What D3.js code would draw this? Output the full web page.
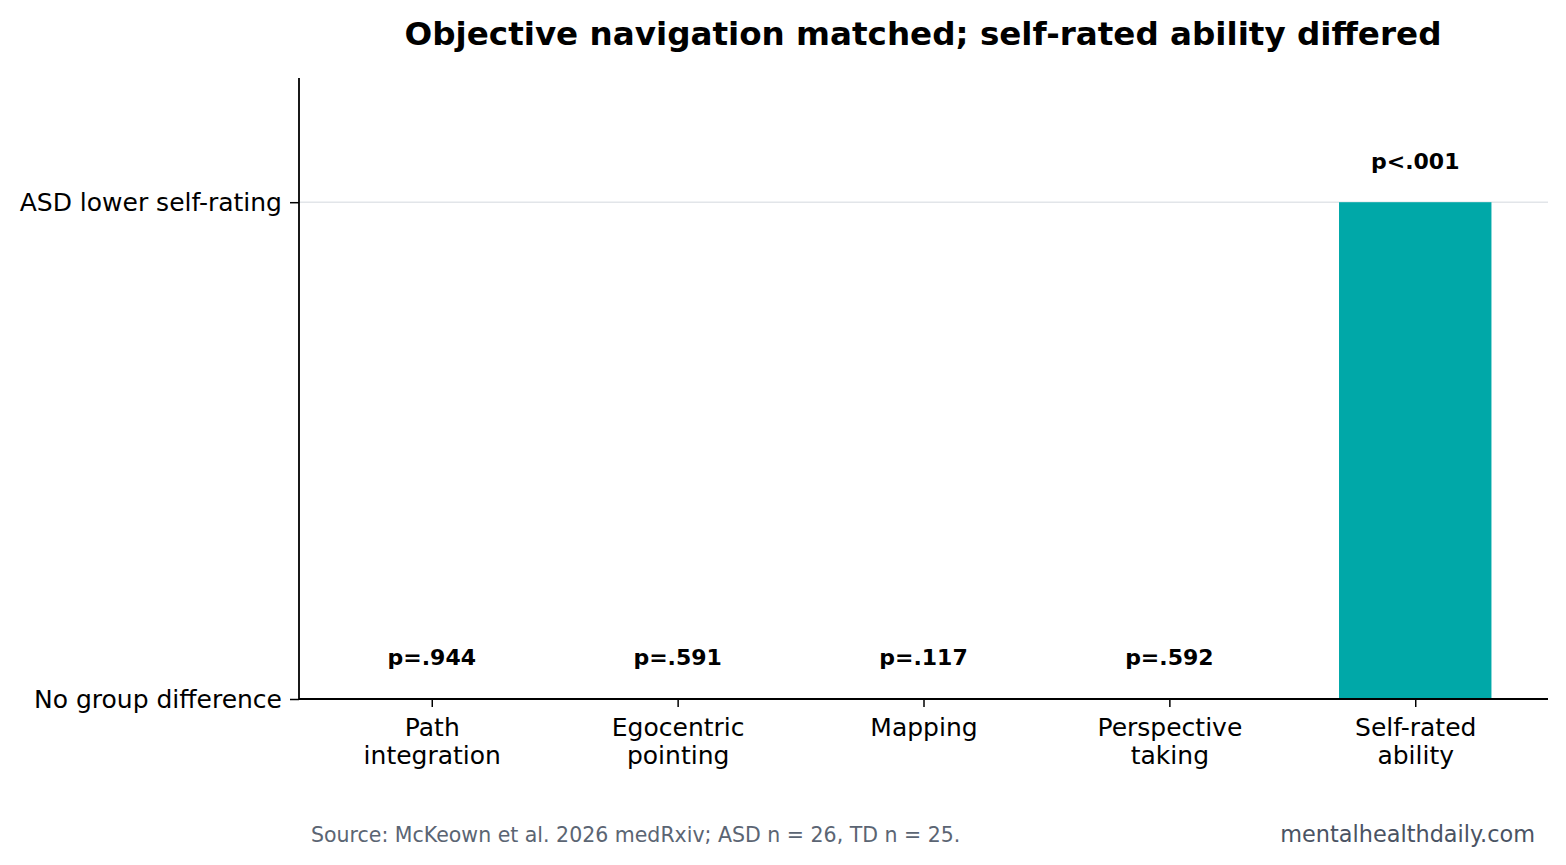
<!DOCTYPE html>
<html><head><meta charset="utf-8">
<script src="https://cdn.jsdelivr.net/npm/d3@7"></script>
<style>body{margin:0;background:#fff}svg{display:block}text{font-family:"DejaVu Sans",sans-serif}</style>
</head><body>
<svg id="c" width="1566" height="865"></svg>
<script>
const categories = [["Path","integration"],["Egocentric","pointing"],["Mapping"],["Perspective","taking"],["Self-rated","ability"]];
const values = [0, 0, 0, 0, 1];
const pLabels = ["p=.944","p=.591","p=.117","p=.592","p<.001"];
const yTickValues = [0, 1];
const yTickLabels = ["No group difference","ASD lower self-rating"];

const svg = d3.select("#c");
const L = 299, R = 1548, T = 78, B = 699;
const x = d3.scaleLinear().domain([-0.54, 4.54]).range([L, R]);
const y = d3.scaleLinear().domain([0, 1.25]).range([B, T]);
const bw = 0.62;

// gridline
svg.append("g").selectAll("line").data(yTickValues.filter(v=>v>0)).join("line")
  .attr("x1", L).attr("x2", R).attr("y1", d=>y(d)).attr("y2", d=>y(d))
  .attr("stroke", "#e2e5e9").attr("stroke-width", 1.5);

// bars
svg.append("g").selectAll("rect").data(values).join("rect")
  .attr("x", (d,i)=>x(i-bw/2)).attr("width", x(bw)-x(0))
  .attr("y", d=>y(d)).attr("height", d=>y(0)-y(d))
  .attr("fill", "#00a8a8");

// p labels
svg.append("g").selectAll("text").data(values).join("text")
  .attr("x", (d,i)=>x(i)).attr("y", d=>y(d+0.083))
  .attr("text-anchor","middle").attr("dy","0.35em")
  .attr("font-size", 22).attr("font-weight","bold").text((d,i)=>pLabels[i]);

// axes
const yAxis = d3.axisLeft(y).tickValues(yTickValues).tickFormat((d,i)=>yTickLabels[i]).tickSize(9).tickPadding(8);
const gy = svg.append("g").attr("transform",`translate(${L},0)`).call(yAxis);
gy.select(".domain").attr("d", `M0,${T}V${B}`).attr("stroke-width",1.8);
gy.selectAll(".tick line").attr("stroke-width",1.5);
gy.selectAll(".tick text").attr("font-size",25).attr("font-family","DejaVu Sans").attr("fill","#000");

const xAxis = d3.axisBottom(x).tickValues(d3.range(categories.length)).tickFormat("").tickSize(8);
const gx = svg.append("g").attr("transform",`translate(0,${B})`).call(xAxis);
gx.select(".domain").attr("d", `M${L},0H${R}`).attr("stroke-width",1.8);
gx.selectAll(".tick line").attr("stroke-width",1.5);
gx.selectAll(".tick").each(function(d){
  const t = d3.select(this).append("text").attr("fill","#000").attr("font-size",25)
    .attr("text-anchor","middle").attr("font-family","DejaVu Sans");
  categories[d].forEach((s,j)=>t.append("tspan").attr("x",0).attr("y",37+j*28).text(s));
});

// title
svg.append("text").attr("x", 923).attr("y", 45).attr("text-anchor","middle")
  .attr("font-size",32.6).attr("font-weight","bold").text("Objective navigation matched; self-rated ability differed");

// footer
svg.append("text").attr("x", 311).attr("y", 842).attr("font-size",20.5).attr("fill","#5b6573")
  .text("Source: McKeown et al. 2026 medRxiv; ASD n = 26, TD n = 25.");
svg.append("text").attr("x", 1535).attr("y", 842).attr("text-anchor","end").attr("font-size",22.4).attr("fill","#4a5363")
  .text("mentalhealthdaily.com");
</script>
</body></html>
